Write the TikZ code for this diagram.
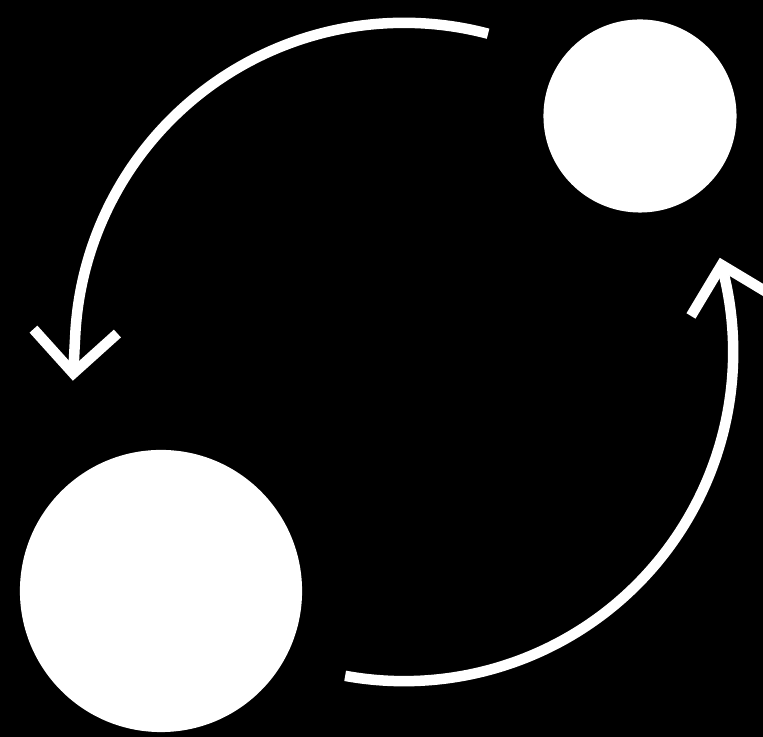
\documentclass[tikz,border=0pt]{standalone}
\usepackage{tikz}
\usetikzlibrary{arrows.meta, positioning}

\begin{document}
\begin{tikzpicture}[>=Stealth, x=0.01cm, y=0.01cm, thick]

% --- Style Definitions ---
% Filled discs
\tikzstyle{big_disc}=[circle, fill=white, draw=none, minimum size=2.82cm, inner sep=0pt]
\tikzstyle{small_disc}=[circle, fill=white, draw=none, minimum size=1.93cm, inner sep=0pt]
% Arrow Styles
\tikzstyle{cycle_arrow}=[-{Straight Barb[length=0.42cm, width=0.84cm, sharp]}, white, line width=0.105cm]

% --- Background ---
\path[use as bounding box, fill=black] (0,0) rectangle (763,737);

% --- 1. Discs ---
\node[small_disc] (Small) at (640,621) {};
\node[big_disc] (Big) at (161,146) {};

% --- 2. Arc ends (common centre of both arcs) ---
\coordinate (Hub) at (404,385);
\coordinate (Top_start) at ([shift={(75.2:3.29cm)}]Hub);
\coordinate (Bot_start) at ([shift={(259.7:3.29cm)}]Hub);

% --- 3. Cycle arrows ---
\draw[cycle_arrow] (Top_start) arc[start angle=75.2, end angle=177, radius=3.29cm] -- ++(267:0.46cm);
\draw[cycle_arrow] (Bot_start) arc[start angle=259.7, end angle=374, radius=3.29cm] -- ++(104:0.15cm);

\end{tikzpicture}
\end{document}
